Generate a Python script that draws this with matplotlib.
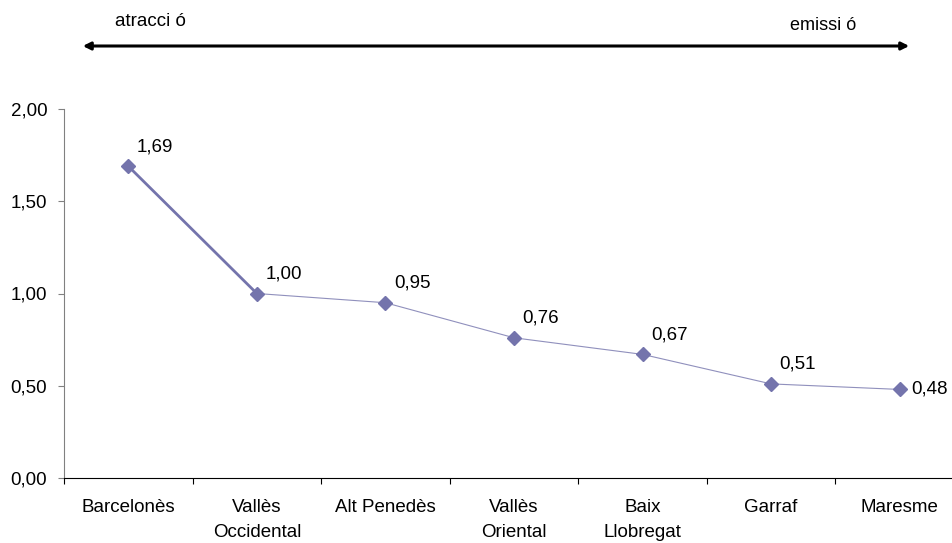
import matplotlib

matplotlib.use("Agg")
import matplotlib.pyplot as plt

plt.rcParams["font.family"] = ["Liberation Sans", "DejaVu Sans"]

categories = ["Barcelonès", "Vallès\nOccidental", "Alt Penedès", "Vallès\nOriental",
              "Baix\nLlobregat", "Garraf", "Maresme"]
values = [1.69, 1.00, 0.95, 0.76, 0.67, 0.51, 0.48]
value_labels = ["1,69", "1,00", "0,95", "0,76", "0,67", "0,51", "0,48"]
y_ticks = [0.0, 0.5, 1.0, 1.5, 2.0]
y_tick_labels = ["0,00", "0,50", "1,00", "1,50", "2,00"]

W, H = 952, 543
color = "#7474AC"
fs = 13.5

fig = plt.figure(figsize=(W / 100, H / 100), dpi=100)
# the plot area runs past the right edge of the image, as in the original
ax = fig.add_axes([64 / W, (H - 478) / H, 900 / W, 369 / H])

x = list(range(len(values)))
ax.plot(x[:2], values[:2], color=color, lw=2.0, zorder=2)
ax.plot(x[1:], values[1:], color=color, lw=0.8, alpha=0.8, zorder=2)
ax.plot(x, values, ls="none", marker="D", ms=7, color=color, zorder=3)

for i, (v, lab) in enumerate(zip(values, value_labels)):
    if i == len(values) - 1:
        ax.annotate(lab, (i, v), xytext=(8, 0), textcoords="offset points",
                    ha="left", va="center", fontsize=fs)
    else:
        ax.annotate(lab, (i, v), xytext=(6, 8), textcoords="offset points",
                    ha="left", va="bottom", fontsize=fs)

ax.set_xlim(-0.5, len(values) - 0.5)
ax.set_ylim(0, 2)
ax.set_yticks(y_ticks)
ax.set_yticklabels(y_tick_labels, fontsize=fs)
ax.set_xticks([i - 0.5 for i in range(len(values) + 1)])
ax.set_xticklabels([])
ax.set_xticks(x, minor=True)
ax.set_xticklabels(categories, minor=True, fontsize=fs, linespacing=1.65, va="top")
ax.tick_params(axis="x", which="minor", length=0, pad=15)
ax.tick_params(axis="x", which="major", length=4, direction="out", color="black")
ax.tick_params(axis="y", length=4, direction="out", color="#808080", pad=8)

for side in ("top", "right"):
    ax.spines[side].set_visible(False)
ax.spines["left"].set_color("#808080")
ax.spines["bottom"].set_color("black")

# direction arrow on top
fig.add_artist(matplotlib.patches.FancyArrowPatch(
    (80 / W, 1 - 46 / H), (912 / W, 1 - 46 / H), transform=fig.transFigure,
    arrowstyle="<|-|>", mutation_scale=11, lw=2.2, color="black"))
fig.text(115 / W, 1 - 21 / H, "atracci ó", fontsize=fs, ha="left", va="center")
fig.text(790 / W, 1 - 25 / H, "emissi ó", fontsize=fs - 0.5, ha="left", va="center")

fig.savefig("out.png", dpi=100)
